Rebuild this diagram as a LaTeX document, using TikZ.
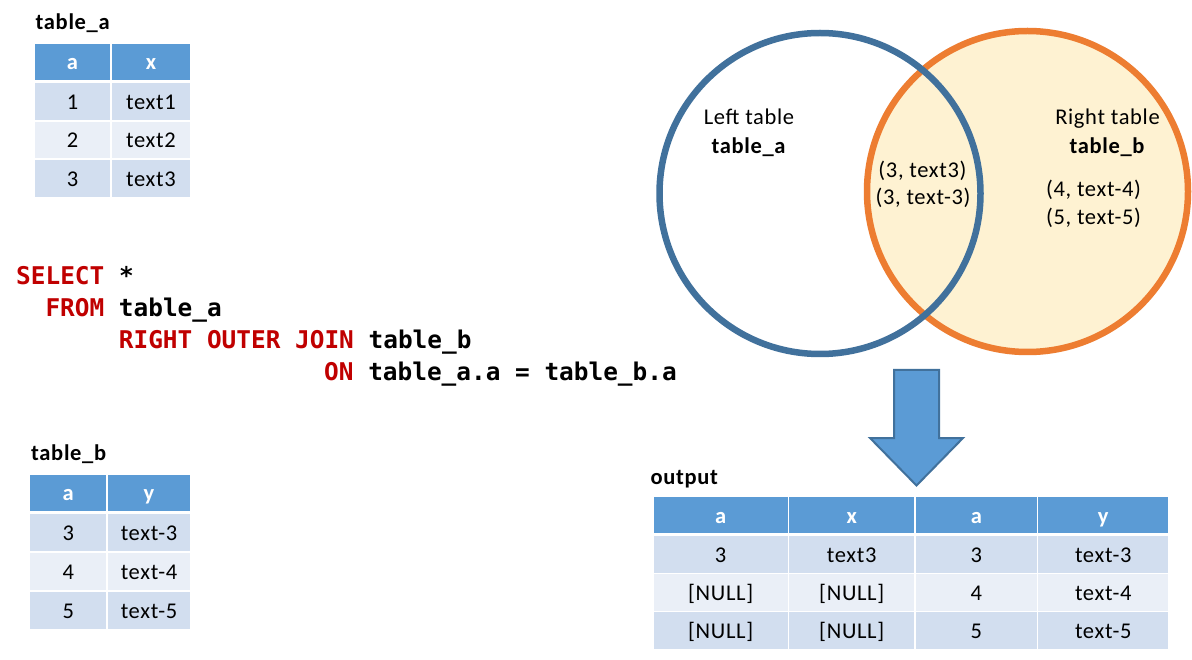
\documentclass[tikz,border=0pt]{standalone}
\usepackage{fontspec}
\setmainfont{Carlito}
\newfontfamily\calfont[LetterSpace=3]{Carlito}
\newfontfamily\sqlfont{DejaVu Sans Mono}
\definecolor{hdrblue}{HTML}{5B9BD5}
\definecolor{rowA}{HTML}{D2DEEF}
\definecolor{rowB}{HTML}{EAEFF7}
\definecolor{bluec}{HTML}{41719C}
\definecolor{orangec}{HTML}{ED7D31}
\definecolor{venfill}{HTML}{FEF2D2}
\definecolor{sqlred}{HTML}{C00000}
\begin{document}
\begin{tikzpicture}[x=1pt,y=-1pt,
  txt/.style={inner sep=0pt, font=\calfont\fontsize{22.5}{27}\selectfont},
  btxt/.style={inner sep=0pt, font=\calfont\bfseries\fontsize{22.5}{27}\selectfont},
  cellbase/.style={rectangle, inner sep=0pt, draw=white, line width=1.5pt,
    text height=16pt, text depth=0pt, font=\calfont\fontsize{22.5}{27}\selectfont, text=black},
  hdr/.style={cellbase, fill=hdrblue, text=white, font=\calfont\bfseries\fontsize{22.5}{27}\selectfont},
  ra/.style={cellbase, fill=rowA},
  rb/.style={cellbase, fill=rowB},
  sql/.style={inner sep=0pt, anchor=base west, font=\sqlfont\bfseries\fontsize{24.4}{29}\selectfont},
  kw/.style={text=sqlred}
]
\useasboundingbox (0,0) rectangle (1192,660);
\fill[white] (0,0) rectangle (1192,660);

% ---------- table_a ----------
\node[btxt, anchor=base west] (lbla) at (35.5,29.5) {table\_a};
\node[hdr, minimum width=77, minimum height=38] (ta-h1) at (72.5,62) {a};
\node[hdr, minimum width=80, minimum height=38] (ta-h2) at (151,62) {x};
\node[ra, minimum width=77, minimum height=38.33] (ta-11) at (72.5,101.67) {1};
\node[ra, minimum width=80, minimum height=38.33] (ta-12) at (151,101.67) {text1};
\node[rb, minimum width=77, minimum height=38.33] (ta-21) at (72.5,140) {2};
\node[rb, minimum width=80, minimum height=38.33] (ta-22) at (151,140) {text2};
\node[ra, minimum width=77, minimum height=38.33] (ta-31) at (72.5,178.33) {3};
\node[ra, minimum width=80, minimum height=38.33] (ta-32) at (151,178.33) {text3};

% ---------- table_b ----------
\node[btxt, anchor=base west] (lblb) at (31,460.5) {table\_b};
\node[hdr, minimum width=77.5, minimum height=37.5] (tb-h1) at (68.25,492.75) {a};
\node[hdr, minimum width=84, minimum height=37.5] (tb-h2) at (149,492.75) {y};
\node[ra, minimum width=77.5, minimum height=38.67] (tb-11) at (68.25,532.83) {3};
\node[ra, minimum width=84, minimum height=38.67] (tb-12) at (149,532.83) {text-3};
\node[rb, minimum width=77.5, minimum height=38.67] (tb-21) at (68.25,571.5) {4};
\node[rb, minimum width=84, minimum height=38.67] (tb-22) at (149,571.5) {text-4};
\node[ra, minimum width=77.5, minimum height=38.67] (tb-31) at (68.25,610.17) {5};
\node[ra, minimum width=84, minimum height=38.67] (tb-32) at (149,610.17) {text-5};

% ---------- SQL ----------
\node[sql] (q1) at (16,285) {\textcolor{sqlred}{SELECT} *};
\node[sql] (q2) at (45.3,317) {\textcolor{sqlred}{FROM} table\_a};
\node[sql] (q3) at (118.7,349) {\textcolor{sqlred}{RIGHT OUTER JOIN} table\_b};
\node[sql] (q4) at (324,381) {\textcolor{sqlred}{ON} table\_a.a = table\_b.a};

% ---------- Venn ----------
\draw[orangec, line width=6.5pt, fill=venfill] (1027.5,191.5) circle[radius=160.5pt];
\draw[bluec, line width=6.5pt] (820,193.5) circle[radius=160.5pt];
\node[txt, anchor=base] (lt1) at (749,124.3) {Left table};
\node[btxt, anchor=base] (lt2) at (748.5,153.3) {table\_a};
\node[txt, anchor=base] (rt1) at (1107.5,125) {Right table};
\node[btxt, anchor=base] (rt2) at (1107,153.3) {table\_b};
\node[txt, anchor=base] (i1) at (922.5,177.3) {(3, text3)};
\node[txt, anchor=base] (i2) at (923,204.3) {(3, text-3)};
\node[txt, anchor=base] (r1) at (1093.5,196.7) {(4, text-4)};
\node[txt, anchor=base] (r2) at (1093.5,225) {(5, text-5)};

% ---------- arrow ----------
\draw[fill=hdrblue, draw=bluec, line width=2pt, line join=miter]
  (894,370) -- (939,370) -- (939,438) -- (963,438) -- (916.5,485.5)
  -- (870,438) -- (894,438) -- cycle;

% ---------- output ----------
\node[btxt, anchor=base west] (lblo) at (650.5,484.3) {output};
\node[hdr, minimum width=135.3, minimum height=38] (to-h1) at (720.65,515) {a};
\node[hdr, minimum width=126.9, minimum height=38] (to-h2) at (851.75,515) {x};
\node[hdr, minimum width=122.3, minimum height=38] (to-h3) at (976.35,515) {a};
\node[hdr, minimum width=131.5, minimum height=38] (to-h4) at (1103.25,515) {y};
\node[ra, minimum width=135.3, minimum height=38] (to-11) at (720.65,554.5) {3};
\node[ra, minimum width=126.9, minimum height=38] (to-12) at (851.75,554.5) {text3};
\node[ra, minimum width=122.3, minimum height=38] (to-13) at (976.35,554.5) {3};
\node[ra, minimum width=131.5, minimum height=38] (to-14) at (1103.25,554.5) {text-3};
\node[rb, minimum width=135.3, minimum height=38] (to-21) at (720.65,592.5) {[NULL]};
\node[rb, minimum width=126.9, minimum height=38] (to-22) at (851.75,592.5) {[NULL]};
\node[rb, minimum width=122.3, minimum height=38] (to-23) at (976.35,592.5) {4};
\node[rb, minimum width=131.5, minimum height=38] (to-24) at (1103.25,592.5) {text-4};
\node[ra, minimum width=135.3, minimum height=38] (to-31) at (720.65,630.5) {[NULL]};
\node[ra, minimum width=126.9, minimum height=38] (to-32) at (851.75,630.5) {[NULL]};
\node[ra, minimum width=122.3, minimum height=38] (to-33) at (976.35,630.5) {5};
\node[ra, minimum width=131.5, minimum height=38] (to-34) at (1103.25,630.5) {text-5};
\end{tikzpicture}
\end{document}
